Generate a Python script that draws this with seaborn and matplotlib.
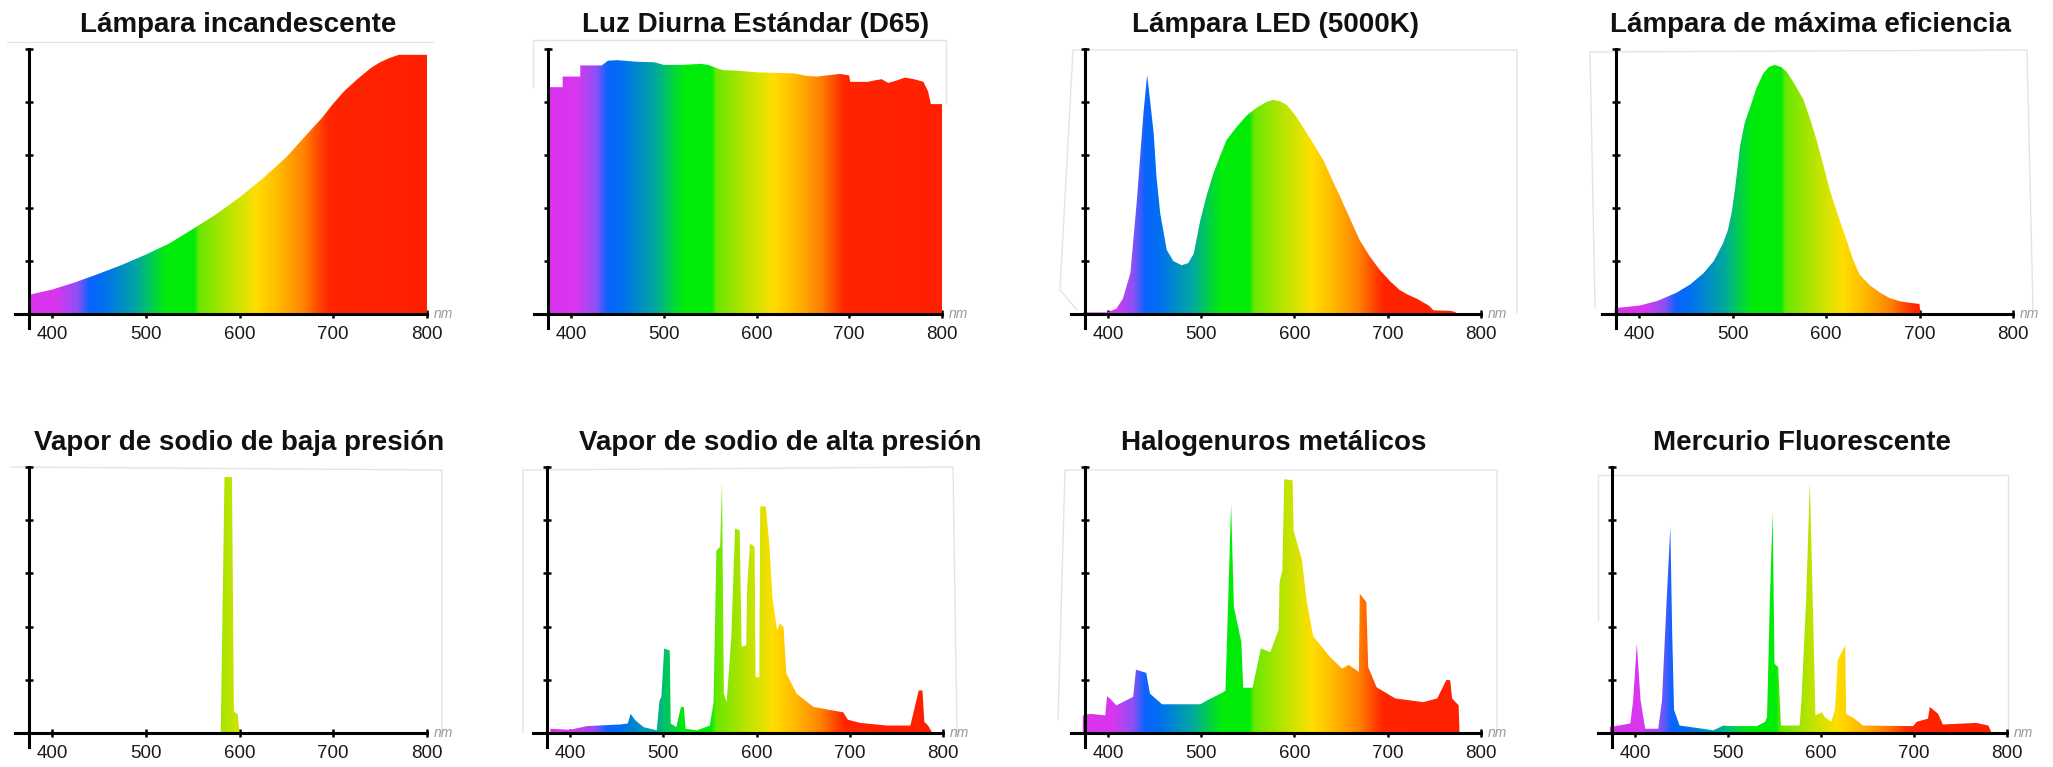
import numpy as np
import pandas as pd
import matplotlib
matplotlib.use("Agg")
import matplotlib.pyplot as plt
from matplotlib.colors import to_rgb
from matplotlib.lines import Line2D
import seaborn as sns

# ---------------------------------------------------------------- data
titles = [
    "Lámpara incandescente", "Luz Diurna Estándar (D65)",
    "Lámpara LED (5000K)", "Lámpara de máxima eficiencia",
    "Vapor de sodio de baja presión", "Vapor de sodio de alta presión",
    "Halogenuros metálicos", "Mercurio Fluorescente",
]
x_ticks = [400, 500, 600, 700, 800]
x_unit = "nm"

incand_nm = [375, 400, 425, 450, 475, 500, 525, 550, 575, 600, 625, 650, 675,
             688, 700, 712, 725, 740, 750, 760, 770, 800]
incand_val = [0.36, 0.46, 0.60, 0.76, 0.93, 1.12, 1.33, 1.60, 1.88, 2.20, 2.56,
              2.96, 3.45, 3.70, 3.97, 4.21, 4.42, 4.64, 4.75, 4.83, 4.89, 4.89]

d65_nm = [375, 391, 391, 410, 410, 433, 440, 450, 470, 490, 500, 520, 540, 548,
          560, 565, 580, 600, 620, 640, 655, 665, 680, 690, 700, 701, 720, 728,
          735, 742, 750, 760, 770, 780, 785, 788, 800]
d65_val = [4.28, 4.28, 4.48, 4.48, 4.69, 4.69, 4.78, 4.79, 4.76, 4.75, 4.70, 4.70,
           4.72, 4.70, 4.62, 4.60, 4.59, 4.56, 4.55, 4.54, 4.49, 4.48, 4.51, 4.53,
           4.50, 4.38, 4.38, 4.41, 4.43, 4.36, 4.40, 4.46, 4.43, 4.38, 4.20, 3.96,
           3.96]

led_nm = [373, 399, 409, 416, 424, 431, 438, 442, 445, 449, 452, 456, 463, 470,
          479, 486, 492, 499, 506, 513, 520, 527, 538, 549, 560, 570, 577, 585,
          592, 600, 609, 620, 631, 640, 649, 660, 670, 681, 692, 703, 713, 722,
          731, 744, 749, 767, 772, 775]
led_val = [0.03, 0.03, 0.10, 0.29, 0.77, 2.15, 3.79, 4.51, 4.05, 3.41, 2.59, 1.90,
           1.21, 1.00, 0.92, 0.96, 1.14, 1.77, 2.25, 2.65, 2.97, 3.28, 3.53, 3.75,
           3.90, 4.00, 4.04, 4.01, 3.94, 3.77, 3.53, 3.22, 2.90, 2.55, 2.21, 1.78,
           1.39, 1.08, 0.82, 0.61, 0.45, 0.36, 0.29, 0.16, 0.07, 0.06, 0.04, 0.0]

vlambda_nm = [374, 401, 420, 440, 455, 469, 480, 490, 495, 499, 503, 508, 513,
              519, 526, 533, 539, 545, 552, 558, 566, 576, 583, 590, 597, 604,
              613, 622, 629, 636, 647, 658, 668, 679, 690, 700, 701]
vlambda_val = [0.11, 0.16, 0.25, 0.40, 0.56, 0.77, 1.00, 1.34, 1.58, 1.90, 2.40,
               3.16, 3.60, 3.91, 4.28, 4.54, 4.66, 4.70, 4.66, 4.57, 4.35, 4.04,
               3.68, 3.28, 2.82, 2.34, 1.85, 1.39, 1.02, 0.74, 0.54, 0.40, 0.30,
               0.24, 0.21, 0.19, 0.0]

lps_nm = [580, 584, 592, 594, 598, 600]
lps_val = [0.0, 4.81, 4.81, 0.40, 0.36, 0.0]

hps_nm = [379, 400, 418, 454, 462, 465, 470, 479, 493, 496, 498, 501, 507, 508,
          514, 519, 522, 524, 536, 550, 554, 557, 561, 563, 565, 568, 573, 577,
          582, 584, 589, 590, 593, 598, 599, 603, 604, 610, 614, 617, 622, 625,
          629, 632, 643, 661, 686, 693, 698, 711, 740, 765, 768, 774, 778, 780,
          784, 788, 790]
hps_val = [0.08, 0.06, 0.13, 0.16, 0.18, 0.36, 0.24, 0.11, 0.05, 0.61, 0.68, 1.59,
           1.55, 0.18, 0.11, 0.49, 0.49, 0.08, 0.05, 0.14, 0.58, 3.43, 3.50, 4.72,
           0.74, 0.58, 1.80, 3.84, 3.81, 1.62, 1.65, 2.74, 3.56, 3.50, 1.05, 1.05,
           4.26, 4.26, 3.50, 2.56, 1.93, 2.06, 1.99, 1.12, 0.74, 0.49, 0.41, 0.39,
           0.25, 0.19, 0.14, 0.14, 0.36, 0.80, 0.80, 0.21, 0.14, 0.02, 0.0]

mh_nm = [373, 381, 397, 399, 402, 409, 427, 430, 441, 445, 458, 499, 506, 524,
         526, 532, 535, 543, 545, 555, 564, 574, 583, 584, 587, 589, 598, 599,
         608, 613, 620, 638, 651, 658, 669, 670, 677, 679, 688, 708, 738, 753,
         763, 767, 769, 776, 777]
mh_val = [0.33, 0.36, 0.33, 0.69, 0.65, 0.52, 0.68, 1.19, 1.13, 0.74, 0.54, 0.54,
          0.61, 0.77, 0.80, 4.31, 2.37, 1.71, 0.85, 0.85, 1.59, 1.52, 1.94, 2.84,
          3.06, 4.77, 4.75, 3.81, 3.25, 2.49, 1.82, 1.43, 1.21, 1.28, 1.15, 2.62,
          2.46, 1.24, 0.86, 0.65, 0.58, 0.65, 1.00, 0.99, 0.65, 0.52, 0.0]

hg_nm = [373, 395, 398, 402, 406, 411, 425, 429, 434, 438, 440, 442, 448, 473,
         484, 495, 502, 531, 540, 542, 545, 548, 550, 554, 557, 577, 579, 584,
         588, 592, 594, 601, 604, 611, 615, 618, 626, 627, 636, 645, 699, 703,
         715, 717, 726, 731, 767, 780, 783, 785]
hg_val = [0.11, 0.18, 0.61, 1.68, 0.61, 0.08, 0.08, 0.61, 2.49, 3.87, 1.87, 0.43,
          0.14, 0.08, 0.05, 0.14, 0.13, 0.13, 0.21, 0.30, 2.49, 4.15, 1.30, 1.24,
          0.14, 0.14, 0.61, 2.49, 4.72, 1.87, 0.33, 0.39, 0.30, 0.21, 0.43, 1.37,
          1.65, 0.36, 0.27, 0.14, 0.13, 0.21, 0.27, 0.49, 0.36, 0.16, 0.19, 0.14,
          0.02, 0.0]

spectra = [
    (incand_nm, incand_val), (d65_nm, d65_val), (led_nm, led_val),
    (vlambda_nm, vlambda_val), (lps_nm, lps_val), (hps_nm, hps_val),
    (mh_nm, mh_val), (hg_nm, hg_val),
]

# visible-spectrum colour stops (wavelength in nm -> colour)
band_nm = [360, 404, 426, 439, 455, 472, 490, 511, 522, 551, 556, 587, 605, 617,
           640, 669, 686, 695, 800]
band_col = ["#dc34ee", "#da36ef", "#9050f5", "#0a64ff", "#0070f0", "#008cc8",
            "#00a8a0", "#00d838", "#00ec08", "#00ec08", "#68e800", "#b8e400",
            "#e0e200", "#ffde00", "#ffbb00", "#ff8000", "#ff4000", "#ff2400",
            "#ff2000"]

# ---------------------------------------------------------------- style
sns.set_theme(style="white")
plt.rcParams["font.family"] = ["Liberation Sans", "DejaVu Sans"]

W, H = 2053, 767
fig = plt.figure(figsize=(W / 100, H / 100), dpi=100)

wl = np.arange(360, 801)
cols = np.array([to_rgb(c) for c in band_col])
rgb = np.stack([np.interp(wl, band_nm, cols[:, i]) for i in range(3)], axis=1)

X0, X1 = 360, 800
YMIN, YMAX = -0.27, 5

# panel placement in pixels: position of 400 nm, position of 800 nm, row
panel_px = [(52, 427, 0), (571, 942, 0), (1108, 1481, 0), (1639, 2013, 0),
            (52, 427, 1), (570, 943, 1), (1108, 1481, 1), (1635, 2007, 1)]
row_px = {0: (314, 49), 1: (733, 467)}        # (y of zero line, y of top)
title_px = [(238, 32), (756, 32), (1276, 32), (1811, 32),
            (239, 450), (780, 450), (1274, 450), (1802, 450)]

for i, ((nm, val), (p400, p800, row)) in enumerate(zip(spectra, panel_px)):
    s = (p800 - p400) / 400.0
    left = p400 - (400 - X0) * s
    zero, top = row_px[row]
    unit = (zero - top) / YMAX
    bottom = zero - YMIN * unit
    ax = fig.add_axes([left / W, 1 - bottom / H, (X1 - X0) * s / W,
                       (bottom - top) / H])

    df = pd.DataFrame({"nm": nm, "val": val})
    sns.lineplot(data=df, x="nm", y="val", ax=ax, estimator=None, sort=False,
                 linewidth=0)
    poly = ax.fill_between(df["nm"], 0, df["val"], facecolor="none",
                           edgecolor="none")
    im = ax.imshow(rgb[np.newaxis, :, :], extent=(X0, X1, 0, YMAX),
                   aspect="auto", origin="lower", interpolation="bilinear",
                   zorder=1)
    im.set_clip_path(poly.get_paths()[0], transform=ax.transData)

    ax.set_xlim(X0, X1)
    ax.set_ylim(YMIN, YMAX)
    ax.set_xticks(x_ticks)
    ax.set_xticklabels([str(t) for t in x_ticks])
    ax.set_yticks(range(6))
    ax.set_yticklabels([])
    ax.set_xlabel("")
    ax.set_ylabel("")
    ax.set_facecolor("none")
    for side in ("top", "right"):
        ax.spines[side].set_visible(False)
    ax.spines["left"].set_position(("data", 375))
    ax.spines["bottom"].set_position(("data", 0))
    for side in ("left", "bottom"):
        ax.spines[side].set_linewidth(2.2)
        ax.spines[side].set_color("black")
        ax.spines[side].set_zorder(3)
    ax.tick_params(axis="both", direction="inout", length=6, width=1.8,
                   color="black", bottom=True, left=True)
    ax.tick_params(axis="x", labelsize=13.5, labelcolor="#1a1a1a", pad=6)
    ax.annotate(x_unit, xy=(X1, 0), xytext=(5, 0), textcoords="offset points",
                va="center", ha="left", style="italic", color="#9a9a9a",
                fontsize=10, annotation_clip=False)

    cx, base = title_px[i]
    fig.text(cx / W, 1 - base / H, titles[i], ha="center", va="baseline",
             fontsize=20, fontweight="bold", color="#111111")

# faint frames around each spectrum image
frames = [
    [(7, 42), (433, 42)],
    [(533, 87), (533, 40), (946, 40), (946, 104)],
    [(1077, 310), (1060, 290), (1073, 50), (1517, 50), (1517, 313)],
    [(1595, 307), (1590, 52), (2027, 50), (2033, 310)],
    [(10, 467), (442, 470), (442, 733)],
    [(523, 733), (523, 470), (953, 467), (957, 735)],
    [(1058, 720), (1065, 470), (1497, 470), (1497, 733)],
    [(1598, 620), (1598, 475), (2008, 475), (2008, 733)],
]
for pts in frames:
    xs = [p[0] / W for p in pts]
    ys = [1 - p[1] / H for p in pts]
    fig.add_artist(Line2D(xs, ys, color="#e4e4e4", lw=1.0, zorder=0))

fig.savefig("out.png", dpi=100, facecolor="white")
